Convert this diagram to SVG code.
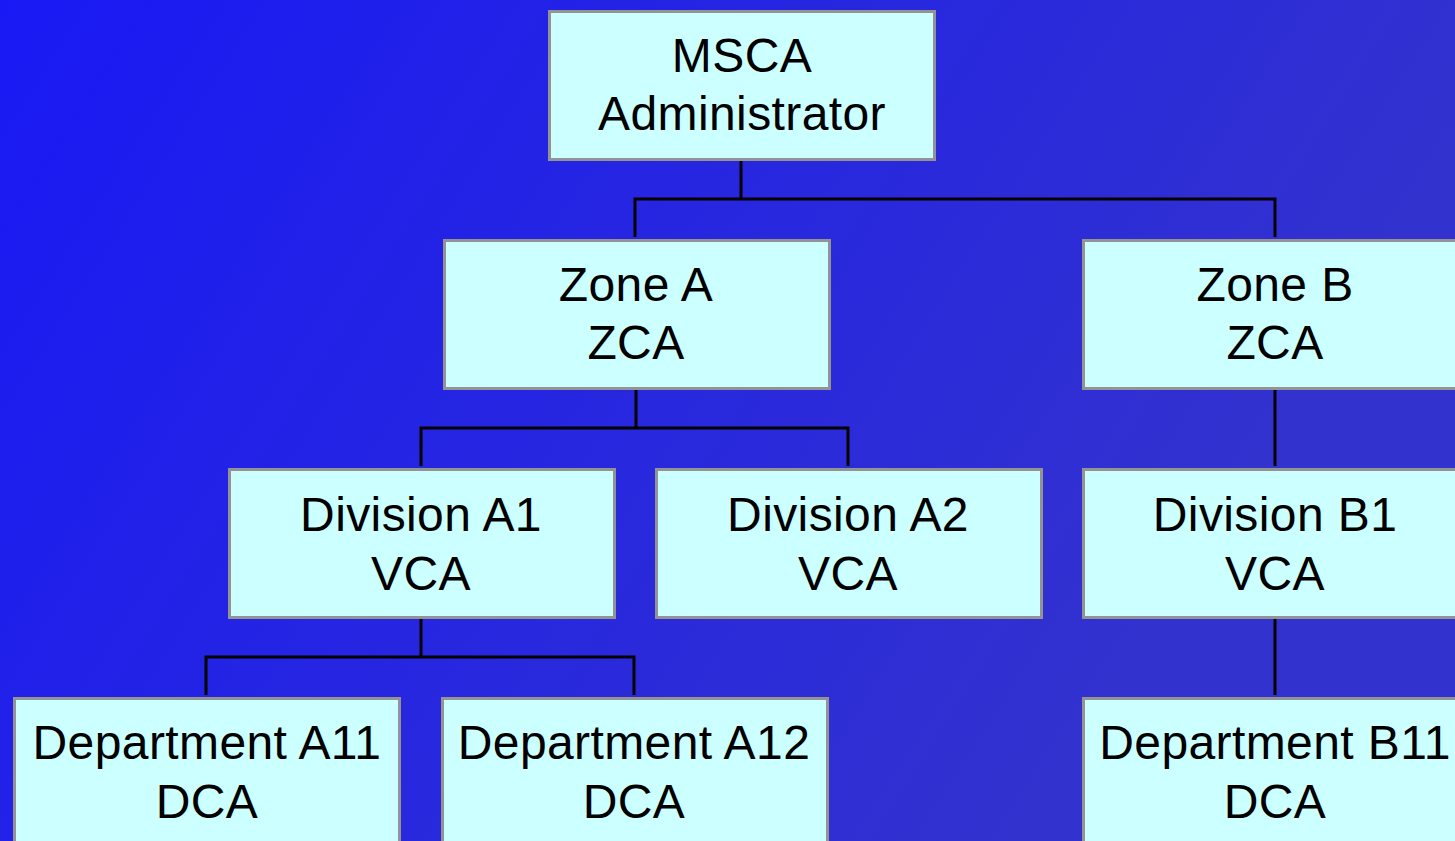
<svg xmlns="http://www.w3.org/2000/svg" width="1455" height="841" viewBox="0 0 1455 841">
  <defs>
    <linearGradient id="bg" gradientUnits="userSpaceOnUse" x1="0" y1="0" x2="1100" y2="700">
      <stop offset="0" stop-color="#1919f5"/>
      <stop offset="1" stop-color="#3232cf"/>
    </linearGradient>
    <style>
      .box { fill: #ccffff; stroke: #939393; stroke-width: 3; }
      .lbl { font-family: "Liberation Sans", Arial, sans-serif; font-size: 48px; fill: #000; text-anchor: middle; letter-spacing: 0.4px; }
      .conn { fill: none; stroke: #000; stroke-width: 3; }
    </style>
  </defs>
  <rect x="0" y="0" width="1455" height="841" fill="url(#bg)"/>

  <g id="connectors">
    <path class="conn" d="M741 160 V199 M635 237 V199 H1275 V237"/>
    <path class="conn" d="M636 389 V428 M421 466 V428 H848 V466"/>
    <path class="conn" d="M1275 389 V466"/>
    <path class="conn" d="M421 618 V657 M206 695 V657 H634 V695"/>
    <path class="conn" d="M1275 618 V695"/>
  </g>

  <g id="msca">
    <rect class="box" x="549.5" y="11.5" width="385" height="148"/>
    <text class="lbl" x="742" y="72">MSCA</text>
    <text class="lbl" x="742" y="130">Administrator</text>
  </g>
  <g id="zoneA">
    <rect class="box" x="444.5" y="240.5" width="385" height="148"/>
    <text class="lbl" x="636" y="301">Zone A</text>
    <text class="lbl" x="636" y="359">ZCA</text>
  </g>
  <g id="zoneB">
    <rect class="box" x="1083.5" y="240.5" width="385" height="148"/>
    <text class="lbl" x="1275" y="301">Zone B</text>
    <text class="lbl" x="1275" y="359">ZCA</text>
  </g>
  <g id="divA1">
    <rect class="box" x="229.5" y="469.5" width="385" height="148"/>
    <text class="lbl" x="421" y="531">Division A1</text>
    <text class="lbl" x="421" y="590">VCA</text>
  </g>
  <g id="divA2">
    <rect class="box" x="656.5" y="469.5" width="385" height="148"/>
    <text class="lbl" x="848" y="531">Division A2</text>
    <text class="lbl" x="848" y="590">VCA</text>
  </g>
  <g id="divB1">
    <rect class="box" x="1083.5" y="469.5" width="385" height="148"/>
    <text class="lbl" x="1275" y="531">Division B1</text>
    <text class="lbl" x="1275" y="590">VCA</text>
  </g>
  <g id="deptA11">
    <rect class="box" x="14.5" y="698.5" width="385" height="148"/>
    <text class="lbl" x="207" y="759">Department A11</text>
    <text class="lbl" x="207" y="818">DCA</text>
  </g>
  <g id="deptA12">
    <rect class="box" x="442.5" y="698.5" width="385" height="148"/>
    <text class="lbl" x="634" y="759">Department A12</text>
    <text class="lbl" x="634" y="818">DCA</text>
  </g>
  <g id="deptB11">
    <rect class="box" x="1083.5" y="698.5" width="385" height="148"/>
    <text class="lbl" x="1275" y="759">Department B11</text>
    <text class="lbl" x="1275" y="818">DCA</text>
  </g>
</svg>
